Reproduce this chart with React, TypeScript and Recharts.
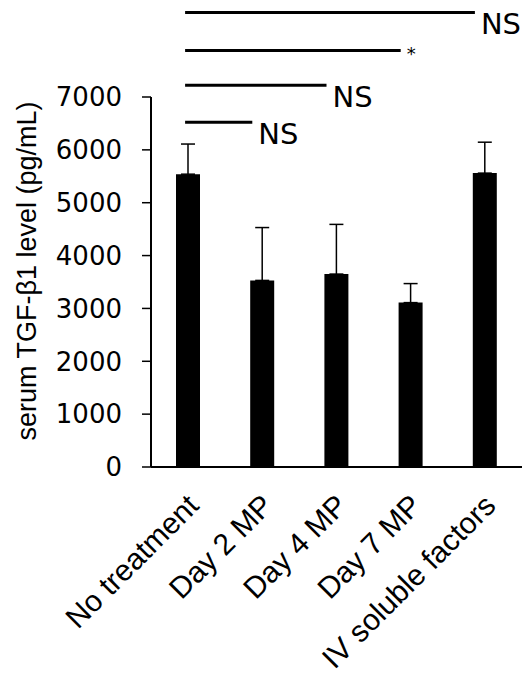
import { BarChart, Bar, XAxis, YAxis, ErrorBar, ReferenceLine, Label } from 'recharts';

const groups = ['No treatment', 'Day 2 MP', 'Day 4 MP', 'Day 7 MP', 'IV soluble factors'];
const means = [5540, 3530, 3650, 3110, 5560];
const upperErrors = [570, 1000, 940, 360, 585];
const yTicks = [0, 1000, 2000, 3000, 4000, 5000, 6000, 7000];

// comparisons against "No treatment", bottom to top
const sigTargets = ['Day 2 MP', 'Day 4 MP', 'Day 7 MP', 'IV soluble factors'];
const sigLevels = [6520, 7220, 7880, 8600];
const sigMarks = ['NS', 'NS', '*', 'NS'];

const data = groups.map((group, i) => ({
  group,
  value: means[i],
  err: [0, upperErrors[i]],
}));

function GroupTick({ x, y, payload }: any) {
  const tx = x + 5;
  const ty = y + 33;
  return (
    <text
      x={tx}
      y={ty}
      dy="0.35em"
      textAnchor="end"
      transform={`rotate(-45, ${tx}, ${ty})`}
      fontFamily="'Liberation Sans', Arial, sans-serif"
      fontSize={30}
      fill="#000"
    >
      {payload.value}
    </text>
  );
}

function SigLine({ x1, y1, x2, mark }: any) {
  const end = x2 - 10;
  const isStar = mark === '*';
  return (
    <g>
      <line x1={x1 - 3} y1={y1} x2={end} y2={y1} stroke="#000" strokeWidth={3} />
      <text
        x={end + 6}
        y={y1 + (isStar ? 10 : 22)}
        fontFamily="'DejaVu Sans', sans-serif"
        fontSize={isStar ? 18 : 29}
        fill="#000"
      >
        {mark}
      </text>
    </g>
  );
}

export default function App() {
  return (
    <div style={{ position: 'absolute', left: 0, top: 0, background: '#fff' }}>
      <BarChart
        width={522}
        height={685}
        data={data}
        margin={{ top: 97, right: 0, bottom: 18, left: 0 }}
        barSize={24}
      >
        <XAxis
          dataKey="group"
          interval={0}
          height={200}
          tickLine={false}
          tickSize={0}
          tickMargin={0}
          axisLine={{ stroke: '#000', strokeWidth: 2 }}
          tick={<GroupTick />}
        />
        <YAxis
          width={151}
          domain={[0, 7000]}
          ticks={yTicks}
          interval={0}
          tickSize={9}
          tickMargin={20}
          axisLine={{ stroke: '#000', strokeWidth: 2 }}
          tickLine={{ stroke: '#000', strokeWidth: 1.5 }}
          tick={{ fill: '#000', fontSize: 26, fontFamily: "'DejaVu Sans', sans-serif" }}
        >
          <Label
            content={() => (
              <text
                transform="translate(36, 271) rotate(-90)"
                textAnchor="middle"
                fontFamily="'Liberation Sans', Arial, sans-serif"
                fontSize={27}
                fill="#000"
              >
                serum TGF-β1 level (pg/mL)
              </text>
            )}
          />
        </YAxis>
        <Bar dataKey="value" fill="#000" isAnimationActive={false}>
          <ErrorBar dataKey="err" width={7} stroke="#000" strokeWidth={1.5} direction="y" />
        </Bar>
        {sigTargets.map((target, i) => (
          <ReferenceLine
            key={target}
            ifOverflow="visible"
            segment={[
              { x: groups[0], y: sigLevels[i] },
              { x: target, y: sigLevels[i] },
            ]}
            shape={(p: any) => <SigLine {...p} mark={sigMarks[i]} />}
          />
        ))}
      </BarChart>
    </div>
  );
}
